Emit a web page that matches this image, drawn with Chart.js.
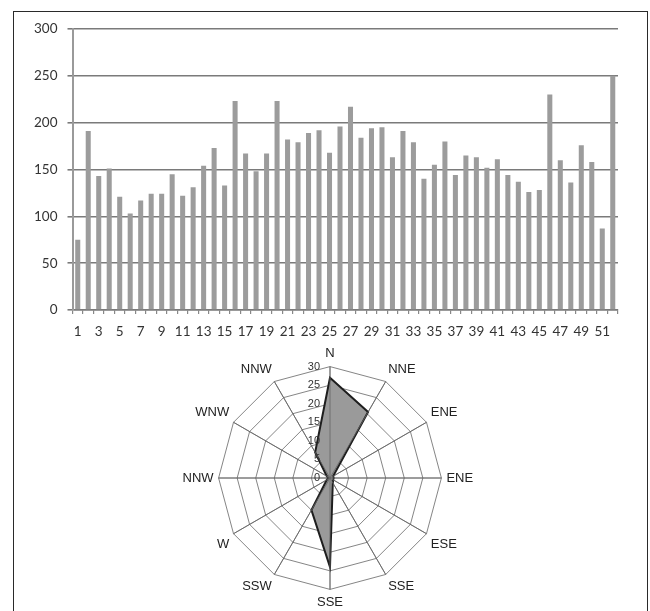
<!DOCTYPE html>
<html>
<head>
<meta charset="utf-8">
<script src="https://cdn.jsdelivr.net/npm/chart.js@4/dist/chart.umd.min.js"></script>
<style>
html,body{margin:0;padding:0;background:#fff;width:650px;height:611px;overflow:hidden;}
#frame{position:absolute;left:13px;top:11px;width:635px;height:660px;border:1px solid #2a2a2a;box-sizing:border-box;}
#bar{position:absolute;left:0;top:0;}
#radar{position:absolute;left:0;top:347px;}
</style>
</head>
<body>
<div id="frame"></div>
<canvas id="bar" width="650" height="345"></canvas>
<canvas id="radar" width="650" height="264"></canvas>
<script>
// ---- Bar chart data ----
const weeks = ['1','2','3','4','5','6','7','8','9','10','11','12','13','14','15','16','17','18','19','20','21','22','23','24','25','26','27','28','29','30','31','32','33','34','35','36','37','38','39','40','41','42','43','44','45','46','47','48','49','50','51','52'];
const counts = [75,191,143,151,121,103,117,124,124,145,122,131,154,173,133,223,167,148,167,223,182,179,189,192,168,196,217,184,194,195,163,191,179,140,155,180,144,165,163,152,161,144,137,126,128,230,160,136,176,158,87,250];
const countTicks = [0,50,100,150,200,250,300];

// ---- Radar chart data ----
const directions = ['N','NNE','ENE','ENE','ESE','SSE','SSE','SSW','W','NNW','WNW','NNW'];
const frequency = [27,20.5,1,1,1,1.5,24,10,1,0.5,1,8];
const radialTicks = [0,5,10,15,20,25,30];

const axisFont = {family:'Lato', size:13.5};

new Chart(document.getElementById('bar'), {
  type:'bar',
  data:{
    labels:weeks,
    datasets:[{data:counts, backgroundColor:'#9c9c9c', borderWidth:0, barPercentage:0.48, categoryPercentage:1}]
  },
  options:{
    responsive:false,
    animation:false,
    layout:{padding:{left:0, top:29, right:32, bottom:0}},
    plugins:{legend:{display:false}, tooltip:{enabled:false}},
    scales:{
      x:{
        grid:{drawOnChartArea:false, drawTicks:true, tickLength:4, color:'#888', lineWidth:1.2},
        border:{display:true, color:'#7a7a7a', width:1.6},
        ticks:{autoSkip:false, maxRotation:0, minRotation:0, padding:10, color:'#333', font:axisFont,
               callback:(v,i)=> i%2===0 ? weeks[i] : ''},
        afterFit:s=>{ s.height = 35; }
      },
      y:{
        min:countTicks[0], max:countTicks[countTicks.length-1],
        afterBuildTicks:s=>{ s.ticks = countTicks.map(v=>({value:v})); },
        ticks:{padding:10, color:'#333', font:axisFont},
        grid:{color:'#7a7a7a', lineWidth:1.6, tickLength:5, drawTicks:true},
        border:{display:true, color:'#9a9a9a', width:2},
        afterFit:s=>{ s.width = 72.5; }
      }
    }
  }
});

const radialOverlay = {
  id:'radialOverlay',
  afterDatasetsDraw(chart){
    const s = chart.scales.r;
    const ctx = chart.ctx;
    ctx.save();
    // angle lines visible through the filled area
    ctx.strokeStyle = '#666';
    ctx.lineWidth = 0.8;
    for (let i = 0; i < directions.length; i++) {
      const p = s.getPointPosition(i, s.drawingArea);
      ctx.beginPath();
      ctx.moveTo(s.xCenter, s.yCenter);
      ctx.lineTo(p.x, p.y);
      ctx.stroke();
    }
    ctx.font = '11px "Liberation Sans", Arial, sans-serif';
    ctx.fillStyle = '#333';
    ctx.textAlign = 'right';
    ctx.textBaseline = 'middle';
    radialTicks.forEach(v=>{
      const d = s.getDistanceFromCenterForValue(v);
      ctx.fillText(String(v), s.xCenter - 10, s.yCenter - d);
    });
    ctx.restore();
  }
};

new Chart(document.getElementById('radar'), {
  type:'radar',
  data:{
    labels:directions,
    datasets:[{data:frequency, backgroundColor:'#9a9a9a', borderColor:'#1e1e1e', borderWidth:2, pointRadius:0, fill:true, tension:0}]
  },
  options:{
    responsive:false,
    animation:false,
    layout:{padding:{left:10, right:0, top:0, bottom:0}},
    plugins:{legend:{display:false}, tooltip:{enabled:false}},
    scales:{
      r:{
        min:0, max:30,
        ticks:{stepSize:5, display:false},
        grid:{circular:false, color:'#666', lineWidth:0.8},
        angleLines:{display:true, color:'#666', lineWidth:0.8},
        pointLabels:{display:true, padding:5, color:'#222', font:{family:'Liberation Sans', size:13}}
      }
    }
  },
  plugins:[radialOverlay]
});
</script>
</body>
</html>
